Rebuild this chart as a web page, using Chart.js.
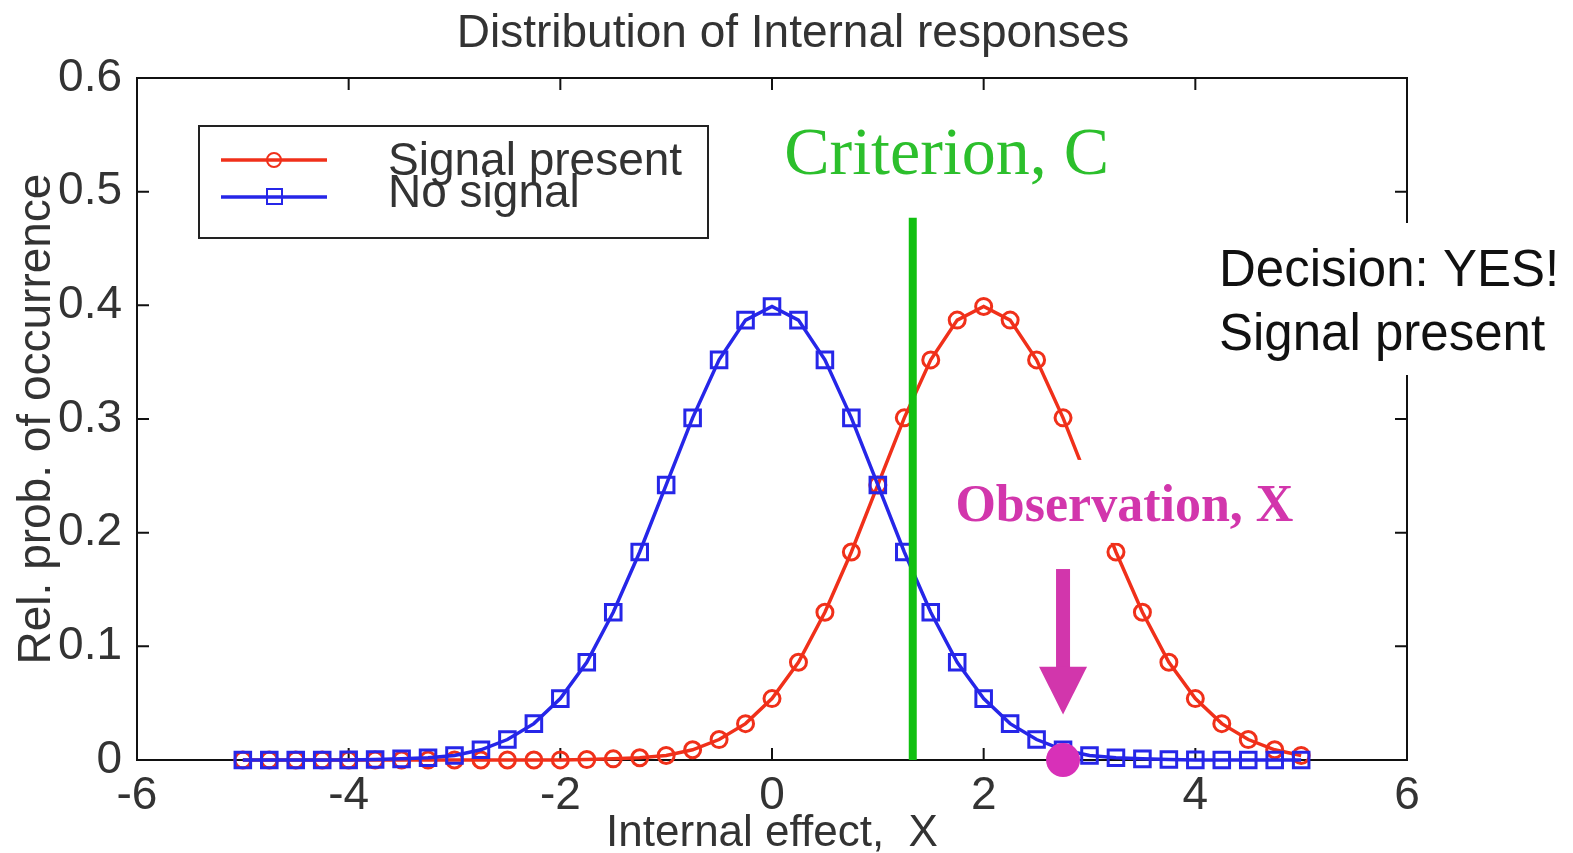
<!DOCTYPE html>
<html>
<head>
<meta charset="utf-8">
<title>Distribution of Internal responses</title>
<script src="https://cdn.jsdelivr.net/npm/chart.js@4.4.1/dist/chart.umd.min.js"></script>
<style>
  html, body { margin: 0; padding: 0; background: #fff; }
  canvas { display: block; }
</style>
</head>
<body>
<canvas id="chart" width="1573" height="853"></canvas>
<script>
// values
const xValues = [-5, -4.75, -4.5, -4.25, -4, -3.75, -3.5, -3.25, -3, -2.75, -2.5, -2.25, -2, -1.75, -1.5, -1.25, -1, -0.75, -0.5, -0.25,
                 0, 0.25, 0.5, 0.75, 1, 1.25, 1.5, 1.75, 2, 2.25, 2.5, 2.75, 3, 3.25, 3.5, 3.75, 4, 4.25, 4.5, 4.75, 5];
const signalPresent = [0, 0, 0, 0, 0, 0, 0, 0, 0, 0, 0, 0, 0.0001, 0.0004, 0.001, 0.002, 0.004, 0.009, 0.018, 0.032,
                       0.054, 0.086, 0.13, 0.183, 0.242, 0.301, 0.352, 0.387, 0.399, 0.387, 0.352, 0.301, 0.242, 0.183, 0.13, 0.086, 0.054, 0.032, 0.018, 0.009, 0.004];
const noSignal = [0, 0, 0, 0, 0.0001, 0.0004, 0.001, 0.002, 0.004, 0.009, 0.018, 0.032, 0.054, 0.086, 0.13, 0.183, 0.242, 0.301, 0.352, 0.387,
                  0.399, 0.387, 0.352, 0.301, 0.242, 0.183, 0.13, 0.086, 0.054, 0.032, 0.018, 0.009, 0.004, 0.002, 0.001, 0.0004, 0.0001, 0, 0, 0, 0];
const xTicks = [-6, -4, -2, 0, 2, 4, 6];
const yTicks = [0, 0.1, 0.2, 0.3, 0.4, 0.5, 0.6];
const yTickLabels = ['0', '0.1', '0.2', '0.3', '0.4', '0.5', '0.6'];

const criterionX = 1.33;
const criterionTop = 0.477;
const observationX = 2.75;
const arrowTop = 0.168;
const arrowHeadBase = 0.082;
const arrowTip = 0.04;

const SANS = '"Liberation Sans", Arial, sans-serif';
const SERIF = '"Liberation Serif", "Times New Roman", serif';
const RED = '#f0301a';
const BLUE = '#2626e8';
const GREEN = '#10c010';
const MAGENTA = '#d236ac';
const TEXT = '#333';

const toPoints = ys => xValues.map((x, i) => ({ x: x, y: ys[i] }));

const decor = {
  id: 'decor',
  beforeDatasetsDraw(chart) {
    const { ctx, chartArea: a, scales: { x, y } } = chart;
    ctx.save();
    // title over the whole picture, not just the axes box
    ctx.fillStyle = TEXT;
    ctx.font = '46px ' + SANS;
    ctx.textAlign = 'center';
    ctx.textBaseline = 'middle';
    ctx.fillText('Distribution of Internal responses', 793, 34);

    ctx.strokeStyle = '#111';
    ctx.lineWidth = 2;
    ctx.strokeRect(a.left, a.top, a.right - a.left, a.bottom - a.top);
    // inward ticks on all four sides, MATLAB style
    ctx.beginPath();
    xTicks.forEach(v => {
      const px = x.getPixelForValue(v);
      ctx.moveTo(px, a.bottom); ctx.lineTo(px, a.bottom - 12);
      ctx.moveTo(px, a.top); ctx.lineTo(px, a.top + 12);
    });
    yTicks.forEach(v => {
      const py = y.getPixelForValue(v);
      ctx.moveTo(a.left, py); ctx.lineTo(a.left + 12, py);
      ctx.moveTo(a.right, py); ctx.lineTo(a.right - 12, py);
    });
    ctx.stroke();
    ctx.restore();
  },
  afterDatasetsDraw(chart) {
    const { ctx, chartArea: a, scales: { x, y } } = chart;
    ctx.save();

    // white patch behind the observation label hides part of the red curve
    const bx0 = x.getPixelForValue(1.7), bx1 = x.getPixelForValue(4.98);
    const by0 = y.getPixelForValue(0.264), by1 = y.getPixelForValue(0.191);
    ctx.fillStyle = '#fff';
    ctx.fillRect(bx0, by0, bx1 - bx0, by1 - by0);
    ctx.fillStyle = MAGENTA;
    ctx.font = 'bold 52px ' + SERIF;
    ctx.textAlign = 'center';
    ctx.textBaseline = 'middle';
    ctx.fillText('Observation, X', x.getPixelForValue(3.33), y.getPixelForValue(0.222));

    // arrow pointing at the observation
    const ax = x.getPixelForValue(observationX);
    const aTop = y.getPixelForValue(arrowTop);
    const aBase = y.getPixelForValue(arrowHeadBase);
    const aTip = y.getPixelForValue(arrowTip);
    ctx.fillRect(ax - 7, aTop, 14, aBase - aTop + 1);
    ctx.beginPath();
    ctx.moveTo(ax - 24, aBase);
    ctx.lineTo(ax + 24, aBase);
    ctx.lineTo(ax, aTip);
    ctx.closePath();
    ctx.fill();

    // criterion label
    ctx.fillStyle = '#2cbf2c';
    ctx.font = '68px ' + SERIF;
    ctx.fillText('Criterion, C', x.getPixelForValue(1.65), y.getPixelForValue(0.531));

    // legend box
    const lx = a.left + 62, ly = a.top + 48;
    ctx.fillStyle = '#fff';
    ctx.fillRect(lx, ly, 509, 112);
    ctx.strokeStyle = '#222';
    ctx.lineWidth = 2;
    ctx.strokeRect(lx, ly, 509, 112);
    ctx.lineWidth = 3.5;
    ctx.strokeStyle = RED;
    ctx.beginPath(); ctx.moveTo(lx + 22, ly + 34); ctx.lineTo(lx + 128, ly + 34); ctx.stroke();
    ctx.lineWidth = 2;
    ctx.beginPath(); ctx.arc(lx + 75, ly + 34, 7, 0, Math.PI * 2); ctx.stroke();
    ctx.lineWidth = 3.5;
    ctx.strokeStyle = BLUE;
    ctx.beginPath(); ctx.moveTo(lx + 22, ly + 71); ctx.lineTo(lx + 128, ly + 71); ctx.stroke();
    ctx.lineWidth = 2;
    ctx.strokeRect(lx + 68, ly + 63, 15, 15);
    ctx.fillStyle = TEXT;
    ctx.font = '46px ' + SANS;
    ctx.textAlign = 'left';
    ctx.textBaseline = 'alphabetic';
    ctx.fillText('Signal present', lx + 189, ly + 49);
    ctx.fillText('No signal', lx + 189, ly + 81);

    // decision note, its white patch covers the right frame
    ctx.fillStyle = '#fff';
    ctx.fillRect(a.right - 207, 223, 373, 152);
    ctx.fillStyle = '#111';
    ctx.font = '51px ' + SANS;
    ctx.fillText('Decision: YES!', a.right - 188, 286);
    ctx.fillText('Signal present', a.right - 188, 350);
    ctx.restore();
  }
};

new Chart(document.getElementById('chart'), {
  type: 'scatter',
  data: {
    datasets: [
      {
        label: 'Observation',
        data: [{ x: observationX, y: 0 }],
        pointRadius: 17,
        pointBackgroundColor: '#d830b8',
        pointBorderWidth: 0,
        clip: false,
        order: 0
      },
      {
        label: 'Criterion',
        data: [{ x: criterionX, y: 0 }, { x: criterionX, y: criterionTop }],
        showLine: true,
        borderColor: GREEN,
        borderWidth: 8,
        pointRadius: 0,
        order: 1
      },
      {
        label: 'No signal',
        data: toPoints(noSignal),
        showLine: true,
        borderColor: BLUE,
        borderWidth: 3.5,
        pointStyle: 'rect',
        pointRadius: 11,
        pointBorderWidth: 3,
        pointBorderColor: BLUE,
        pointBackgroundColor: 'rgba(0,0,0,0)',
        clip: 12,
        order: 2
      },
      {
        label: 'Signal present',
        data: toPoints(signalPresent),
        showLine: true,
        borderColor: RED,
        borderWidth: 3.5,
        pointStyle: 'circle',
        pointRadius: 8,
        pointBorderWidth: 3,
        pointBorderColor: RED,
        pointBackgroundColor: 'rgba(0,0,0,0)',
        clip: 12,
        order: 3
      }
    ]
  },
  options: {
    responsive: false,
    animation: false,
    devicePixelRatio: 1,
    layout: { padding: { left: 0, right: 166, top: 78, bottom: 0 } },
    plugins: {
      legend: { display: false },
      tooltip: { enabled: false },
      title: { display: false }
    },
    scales: {
      x: {
        type: 'linear',
        min: -6,
        max: 6,
        afterFit: s => { s.height = 93; },
        afterBuildTicks: s => { s.ticks = xTicks.map(v => ({ value: v })); },
        grid: { display: false },
        border: { display: false },
        ticks: {
          color: TEXT,
          font: { family: SANS, size: 46 },
          padding: 1,
          maxRotation: 0,
          autoSkip: false,
          callback: v => String(v)
        },
        title: {
          display: true,
          text: 'Internal effect,  X',
          color: TEXT,
          font: { family: SANS, size: 44 },
          padding: { top: 0, bottom: -7 }
        }
      },
      y: {
        type: 'linear',
        min: 0,
        max: 0.6,
        afterFit: s => { s.width = 137; },
        afterBuildTicks: s => { s.ticks = yTicks.map(v => ({ value: v })); },
        grid: { display: false },
        border: { display: false },
        ticks: {
          color: TEXT,
          font: { family: SANS, size: 46 },
          padding: 7,
          autoSkip: false,
          callback: (v, i) => yTickLabels[i]
        },
        title: {
          display: true,
          text: 'Rel. prob. of occurrence',
          color: TEXT,
          font: { family: SANS, size: 46 },
          padding: { top: 10, bottom: 0 }
        }
      }
    }
  },
  plugins: [decor]
});
</script>
</body>
</html>
